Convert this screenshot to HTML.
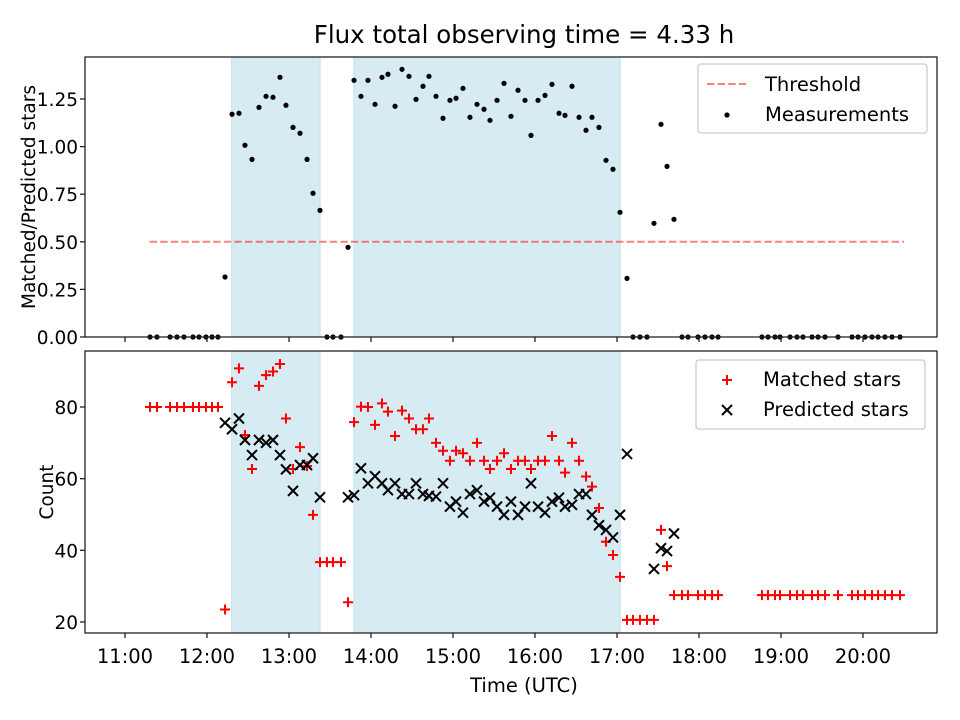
<!DOCTYPE html>
<html><head><meta charset="utf-8"><style>
html,body{margin:0;padding:0;background:#fff;}
svg{display:block;font-family:"DejaVu Sans","Liberation Sans",sans-serif;}
</style></head><body>
<svg id="fig" width="960" height="720" viewBox="0 0 960 720" xmlns="http://www.w3.org/2000/svg"></svg>
<script>
const times=[11.305,11.39,11.549,11.634,11.72,11.829,11.902,11.988,12.061,12.134,
12.22,12.305,12.39,12.463,12.549,12.634,12.72,12.805,12.89,12.963,13.049,13.134,13.22,13.293,13.378,
13.463,13.537,13.634,13.72,13.793,13.878,13.963,14.049,14.134,14.207,14.293,14.378,14.463,14.549,
14.634,14.707,14.793,14.878,14.963,15.037,15.122,15.207,15.293,15.378,15.451,15.537,15.622,15.707,
15.793,15.878,15.951,16.037,16.122,16.207,16.293,16.366,16.451,16.537,16.622,16.695,16.78,16.866,
16.951,17.037,17.122,17.195,17.28,17.366,17.451,17.537,17.61,17.695,
17.793,17.866,17.988,18.073,18.159,18.232,
18.768,18.841,18.927,18.988,19.11,19.195,19.268,19.378,19.451,19.537,19.695,19.866,19.939,20.024,20.11,20.183,20.268,20.354,20.451];
const ratio=[0,0,0,0,0,0,0,0,0,0,
0.315,1.17,1.175,1.007,0.933,1.206,1.264,1.259,1.364,1.217,1.101,1.07,0.933,0.755,0.665,
0,0,0,0.471,1.348,1.264,1.348,1.222,1.364,1.38,1.212,1.406,1.369,1.248,
1.317,1.369,1.264,1.149,1.243,1.254,1.306,1.154,1.222,1.196,1.138,1.243,1.332,1.159,
1.296,1.243,1.059,1.243,1.269,1.327,1.175,1.164,1.317,1.154,1.086,1.154,1.101,0.928,
0.881,0.655,0.308,0,0,0,0.597,1.117,0.896,0.618,
0,0,0,0,0,0,
0,0,0,0,0,0,0,0,0,0,0,0,0,0,0,0,0,0,0];
const matched=[80,80,80,80,80,80,80,80,80,80,
23.5,86.9,90.8,72.2,62.7,85.9,88.9,89.9,92,76.8,62.7,68.8,63.5,49.9,36.7,
36.7,36.7,36.7,25.5,75.8,80.1,80,75,81,78.7,71.9,79,76.8,73.8,
73.8,76.8,70,67.8,65,67.8,67.1,65,70,65,62.7,65,67.1,62.7,
65,65,62.7,65,65,71.9,65,61.7,70,65,60.6,57.8,51.8,42.4,
38.7,32.6,20.6,20.6,20.6,20.6,20.6,45.7,35.6,27.5,
27.5,27.5,27.5,27.5,27.5,27.5,
27.5,27.5,27.5,27.5,27.5,27.5,27.5,27.5,27.5,27.5,27.5,27.5,27.5,27.5,27.5,27.5,27.5,27.5,27.5];
const predicted=[null,null,null,null,null,null,null,null,null,null,
75.6,73.8,76.8,70.8,66.6,70.8,70,70.8,66.6,62.6,56.6,63.8,63.8,65.7,54.8,
null,null,null,54.8,55.4,62.9,58.7,60.7,58.7,56.8,58.7,55.7,55.7,58.7,
55.7,55.2,55,58.7,52.2,53.6,50.5,55.7,56.8,53.6,54.7,52.2,49.9,53.6,
49.9,52.2,58.7,52.2,50.5,53.6,54.7,52.2,52.7,55.7,55.7,49.9,47,45.7,
43.6,49.9,66.9,null,null,null,34.8,40.6,39.8,44.7,
null,null,null,null,null,null,
null,null,null,null,null,null,null,null,null,null,null,null,null,null,null,null,null,null,null];
const spans=[[12.3,13.38],[13.79,17.04]];
const threshold=0.5, thrStart=11.3, thrEnd=20.5;
const xTicks=[11,12,13,14,15,16,17,18,19,20];
const topTicks=[0,0.25,0.5,0.75,1.0,1.25];
const botTicks=[20,40,60,80];

const NS="http://www.w3.org/2000/svg";
const svg=document.getElementById('fig');
function mk(tag,attrs,parent){const e=document.createElementNS(NS,tag);for(const k in attrs)e.setAttribute(k,attrs[k]);(parent||svg).appendChild(e);return e;}
const L=85,R=937,T1=57,B1=337,T2=351,B2=633;
const FS=19.5, TFS=18.5;
const X=h=>125+(h-11)*82;
const Y1=v=>337-v*190.4;
const Y2=v=>622-(v-20)*3.583;

let t=mk('text',{x:524,y:43,'text-anchor':'middle','font-size':24.5});
t.textContent='Flux total observing time = 4.33 h';



function panel(top,bot,name){
  const g=mk('g',{});
  
  
  spans.forEach((s,i)=>{
    const r=mk('rect',{x:X(s[0]),y:top,width:X(s[1])-X(s[0]),height:bot-top,fill:'#add8e6','fill-opacity':0.5,stroke:'#add8e6','stroke-opacity':0.6},g);
    
    
  });
  return g;
}
const g1=panel(T1,B1,'ratio-panel');
const g2=panel(T2,B2,'count-panel');

const th=mk('line',{x1:X(thrStart),x2:X(thrEnd),y1:Y1(threshold),y2:Y1(threshold),stroke:'#ff0000','stroke-opacity':0.5,'stroke-width':2,'stroke-dasharray':'7.4,3.2'},g1);



times.forEach((h,i)=>{
  const c=mk('circle',{cx:X(h),cy:Y1(ratio[i]),r:2.6,fill:'#000'},g1);
  
  
});
times.forEach((h,i)=>{
  const x=X(h),y=Y2(matched[i]);
  const p=mk('path',{d:`M${x-5},${y}H${x+5}M${x},${y-5}V${y+5}`,stroke:'#ff0000','stroke-width':2},g2);
  
  
});
times.forEach((h,i)=>{
  if(predicted[i]===null)return;
  const x=X(h),y=Y2(predicted[i]);
  const p=mk('path',{d:`M${x-5},${y-5}L${x+5},${y+5}M${x-5},${y+5}L${x+5},${y-5}`,stroke:'#000','stroke-width':2},g2);
  
  
});

[[T1,B1,'ratio-axes-frame'],[T2,B2,'count-axes-frame']].forEach(a=>{
  const r=mk('rect',{x:L,y:a[0],width:R-L,height:a[1]-a[0],fill:'none',stroke:'#222','stroke-width':1.3});
  
  
});
xTicks.forEach(h=>{
  const x=X(h);
  mk('line',{x1:x,x2:x,y1:B1,y2:B1+5,stroke:'#222','stroke-width':1.3});
  mk('line',{x1:x,x2:x,y1:B2,y2:B2+5,stroke:'#222','stroke-width':1.3});
  const tx=mk('text',{x:x,y:663,'text-anchor':'middle','font-size':FS});
  tx.textContent=String(h).padStart(2,'0')+':00';
  
  
});
topTicks.forEach(v=>{
  const y=Y1(v);
  mk('line',{x1:L-5,x2:L,y1:y,y2:y,stroke:'#222','stroke-width':1.3});
  const tx=mk('text',{x:L-7,y:y+7,'text-anchor':'end','font-size':TFS});
  tx.textContent=v.toFixed(2);
  
  
});
botTicks.forEach(v=>{
  const y=Y2(v);
  mk('line',{x1:L-5,x2:L,y1:y,y2:y,stroke:'#222','stroke-width':1.3});
  const tx=mk('text',{x:L-7,y:y+7,'text-anchor':'end','font-size':TFS});
  tx.textContent=String(v);
  
  
});
let yl=mk('text',{x:0,y:0,'text-anchor':'middle','font-size':18.5,transform:'translate(35,197) rotate(-90)'});
yl.textContent='Matched/Predicted stars';


let yl2=mk('text',{x:0,y:0,'text-anchor':'middle','font-size':18.5,transform:'translate(53,492) rotate(-90)'});
yl2.textContent='Count';


let xl=mk('text',{x:524,y:692,'text-anchor':'middle','font-size':FS});
xl.textContent='Time (UTC)';



function legend(x,y,name){
  const g=mk('g',{});
  
  
  mk('rect',{x:x,y:y,width:229,height:69,rx:3,fill:'#fff','fill-opacity':0.8,stroke:'#cccccc','stroke-width':1.3},g);
  return g;
}
const lg1=legend(698,64,'ratio-legend');
mk('line',{x1:707,x2:747,y1:84,y2:84,stroke:'#ff0000','stroke-opacity':0.5,'stroke-width':2,'stroke-dasharray':'7.4,3.2'},lg1);
let a=mk('text',{x:765,y:91,'font-size':FS},lg1);a.textContent='Threshold';


mk('circle',{cx:727,cy:115,r:2.6,fill:'#000'},lg1);
a=mk('text',{x:765,y:121,'font-size':FS},lg1);a.textContent='Measurements';



const lg2=legend(696,360,'count-legend');
mk('path',{d:'M722,380H732M727,375V385',stroke:'#ff0000','stroke-width':2},lg2);
a=mk('text',{x:763,y:386,'font-size':FS},lg2);a.textContent='Matched stars';


mk('path',{d:'M722,405L732,415M722,415L732,405',stroke:'#000','stroke-width':2},lg2);
a=mk('text',{x:763,y:416,'font-size':FS},lg2);a.textContent='Predicted stars';


</script>
</body></html>
